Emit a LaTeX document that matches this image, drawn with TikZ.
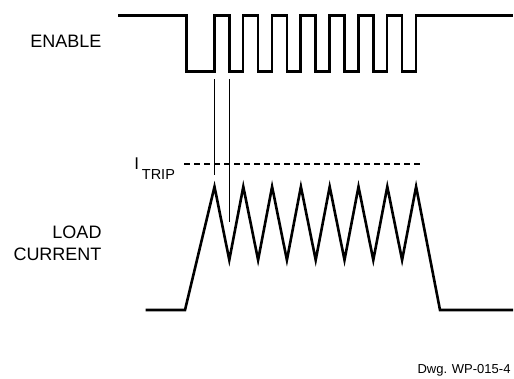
\documentclass[tikz,border=0pt]{standalone}
\usepackage{fontspec}
\setmainfont{Liberation Sans}
\usetikzlibrary{calc}

\begin{document}
\begin{tikzpicture}[x=1pt,y=-1pt,
  wave/.style={line width=2.6pt,line join=miter},
  marker/.style={line width=1.1pt},
  trip/.style={line width=1.1pt,dash pattern=on 6pt off 4pt},
  lbl/.style={inner sep=0pt,anchor=base east,font=\fontsize{18}{20}\selectfont}]
\useasboundingbox (0,0) rectangle (514,379);

\def\hi{15.5}\def\lo{71.7}\def\per{28.8}
\def\base{310}\def\pk{186.7}\def\vl{260}

% Enable signal, chopping at the trip point
\draw[wave] (118,\hi) -| (186.7,\lo)
  \foreach \k in {0,...,6}{ -| ({214.3+\per*\k},\hi) -| ({229.3+\per*\k},\lo)}
  -| ({214.3+\per*7},\hi) -- (513,\hi);

% Load current ramps up, then saws between the two levels
\draw[wave] (145.7,\base) -- (185,\base) -- (214.5,\pk)
  \foreach \k in {0,...,6}{ -- ({229.3+\per*\k},\vl) -- ({214.5+\per*(\k+1)},\pk)}
  -- (440,\base) -- (513,\base);

\coordinate (rise) at (214.3,79.3);
\coordinate (rise end) at (214.3,175);
\coordinate (fall) at (229.3,79.3);
\coordinate (fall end) at (229.3,221.7);
\draw[marker] (rise) -- (rise end);
\draw[marker] (fall) -- (fall end);

\coordinate (trip start) at (184,164);
\coordinate (trip end) at (423.3,164);
\draw[trip] (trip start) -- (trip end);

\node[lbl] (enable) at (101.7,47.7) {ENABLE};
\node[lbl] (load) at (101.7,238.3) {LOAD};
\node[lbl] (current) at (101.7,260.7) {CURRENT};
\node[inner sep=0pt,anchor=base west,font=\fontsize{17}{20}\selectfont] (itrip) at (134.2,170) {I};
\node[inner sep=0pt,anchor=base west,font=\fontsize{14.5}{16}\selectfont] (itrip sub) at (141.7,179.3) {TRIP};
\node[inner sep=0pt,anchor=base east,font=\fontsize{13}{15}\selectfont] (dwg) at (510.7,373) {Dwg. WP-015-4};

\end{tikzpicture}
\end{document}
